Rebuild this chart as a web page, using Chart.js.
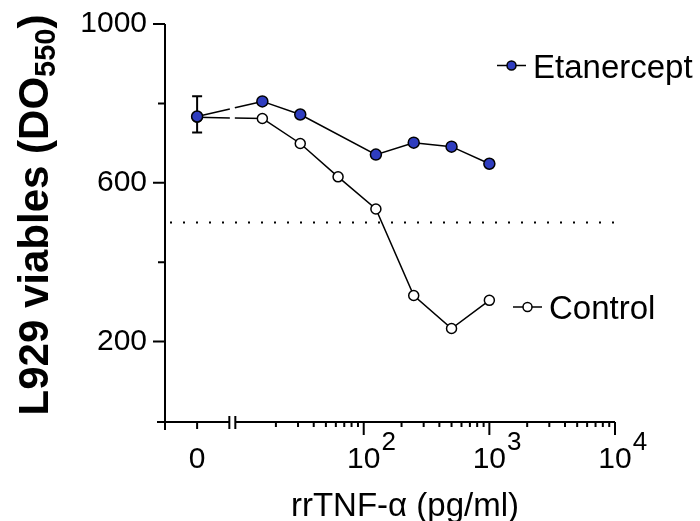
<!DOCTYPE html>
<html>
<head>
<meta charset="utf-8">
<script src="https://cdn.jsdelivr.net/npm/chart.js@4.4.0/dist/chart.umd.min.js"></script>
<style>
  html, body { margin: 0; padding: 0; background: #fff; }
  canvas { display: block; }
</style>
</head>
<body>
<canvas id="chart" width="700" height="521"></canvas>
<script>
// rrTNF-a concentrations in pg/ml, 0 sits left of the axis break
const concentrations = [0, 15.6, 31.25, 62.5, 125, 250, 500, 1000];
const etanercept = [767, 805, 772, null, 671, 701, 691, 648];
const control = [765, 762, 699, 615, 534, 316, 233, 304];
// SD on the first Etanercept point only
const errLow = [727];
const errHigh = [818];
const threshold = 500;

const yTicks = [0, 200, 400, 600, 800, 1000];
const yLabels = [200, 600, 1000];
const xMajor = [100, 1000, 10000];
const xExp = ['2', '3', '4'];

const X_MIN = 2.62;     // left end of the x axis
const ZERO_AT = 4.72;   // where the "0" group is drawn
const BREAK_AT = 9;     // axis break
const BLUE = '#2f3dbf';
const FONT = '"Liberation Sans", Arial, Helvetica, sans-serif';

const xOf = c => (c === 0 ? ZERO_AT : c);
const toPoints = arr => concentrations.map((c, i) => ({ x: xOf(c), y: arr[i] }));

const xMinor = [];
[10, 100, 1000].forEach(d => { for (let k = 2; k <= 9; k++) xMinor.push(k * d); });

// open a small gap in the segment that crosses the axis break
function breakDash(ctx) {
  if (ctx.p0DataIndex !== 0) return undefined;
  const bx = ctx.chart.scales.x.getPixelForValue(BREAK_AT);
  const { p0, p1 } = ctx;
  const dx = p1.x - p0.x;
  const len = Math.hypot(dx, p1.y - p0.y);
  const k = len / dx;
  return [(bx - 2.5 - p0.x) * k, 5 * k, 1000];
}

const prism = {
  id: 'prism',
  beforeDatasetsDraw(chart) {
    const { ctx, scales: { x, y } } = chart;
    const px = x.getPixelForValue(ZERO_AT);
    ctx.save();
    ctx.strokeStyle = '#000';
    ctx.lineWidth = 2;
    ctx.beginPath();
    const lo = y.getPixelForValue(errLow[0]), hi = y.getPixelForValue(errHigh[0]);
    ctx.moveTo(px, lo); ctx.lineTo(px, hi);
    ctx.moveTo(px - 5, lo); ctx.lineTo(px + 5, lo);
    ctx.moveTo(px - 5, hi); ctx.lineTo(px + 5, hi);
    ctx.stroke();
    ctx.restore();
  },
  afterDraw(chart) {
    const { ctx, chartArea: a, scales: { x, y } } = chart;
    const bx = x.getPixelForValue(BREAK_AT);
    const ax = a.left, ay = a.bottom + 1;
    ctx.save();
    ctx.strokeStyle = '#000';
    ctx.lineWidth = 2;
    ctx.beginPath();
    // y axis
    ctx.moveTo(ax, a.top); ctx.lineTo(ax, ay + 8);
    yTicks.forEach(v => {
      const py = v === 0 ? ay : y.getPixelForValue(v);
      const len = v === 0 ? 8 : (yLabels.includes(v) ? 12 : 7);
      ctx.moveTo(ax - len, py); ctx.lineTo(ax, py);
    });
    // x axis with break
    ctx.moveTo(ax - 8, ay); ctx.lineTo(bx - 3, ay);
    ctx.moveTo(bx + 3, ay); ctx.lineTo(a.right, ay);
    ctx.moveTo(bx - 3, ay - 6); ctx.lineTo(bx - 3, ay + 7);
    ctx.moveTo(bx + 3, ay - 6); ctx.lineTo(bx + 3, ay + 7);
    const zx = x.getPixelForValue(ZERO_AT);
    ctx.moveTo(zx, ay); ctx.lineTo(zx, ay + 7);
    xMinor.forEach(v => {
      const p = x.getPixelForValue(v);
      ctx.moveTo(p, ay); ctx.lineTo(p, ay + 5);
    });
    xMajor.forEach(v => {
      const p = x.getPixelForValue(v);
      ctx.moveTo(p, ay); ctx.lineTo(p, ay + 13);
    });
    ctx.stroke();

    // x tick labels
    ctx.fillStyle = '#000';
    ctx.textBaseline = 'alphabetic';
    ctx.textAlign = 'center';
    ctx.font = '30px ' + FONT;
    ctx.fillText('0', zx, 468);
    xMajor.forEach((v, i) => {
      const p = x.getPixelForValue(v);
      ctx.font = '30px ' + FONT;
      ctx.textAlign = 'center';
      ctx.fillText('10', p, 468);
      const w = ctx.measureText('10').width;
      ctx.font = '26px ' + FONT;
      ctx.textAlign = 'left';
      ctx.fillText(xExp[i], p + w / 2 + 1, 450);
    });

    // x title
    ctx.font = '33px ' + FONT;
    ctx.textAlign = 'center';
    ctx.fillText('rrTNF-\u03b1 (pg/ml)', 405, 516);

    // y title, rotated, with subscript
    ctx.save();
    ctx.translate(33, 215);
    ctx.rotate(-Math.PI / 2);
    const mainTxt = 'L929 viables (DO', subTxt = '550', endTxt = ')';
    const bold = 'bold 42px ' + FONT, boldSub = 'bold 29px ' + FONT;
    ctx.font = bold;
    const w1 = ctx.measureText(mainTxt).width, w3 = ctx.measureText(endTxt).width;
    ctx.font = boldSub;
    const w2 = ctx.measureText(subTxt).width;
    let u = -(w1 + w2 + w3) / 2;
    ctx.textAlign = 'left';
    ctx.font = bold; ctx.fillText(mainTxt, u, 15); u += w1;
    ctx.font = boldSub; ctx.fillText(subTxt, u, 22); u += w2;
    ctx.font = bold; ctx.fillText(endTxt, u, 15);
    ctx.restore();

    // series labels next to the curves
    const items = [
      { text: 'Etanercept', x: 497, y: 65.5, fill: BLUE },
      { text: 'Control', x: 513, y: 307, fill: '#fff' }
    ];
    items.forEach(it => {
      ctx.lineWidth = 1.5;
      ctx.beginPath();
      ctx.moveTo(it.x, it.y); ctx.lineTo(it.x + 29, it.y);
      ctx.stroke();
      ctx.beginPath();
      ctx.arc(it.x + 14.5, it.y, 4.5, 0, Math.PI * 2);
      ctx.fillStyle = it.fill;
      ctx.fill();
      ctx.stroke();
      ctx.fillStyle = '#000';
      ctx.font = '33px ' + FONT;
      ctx.textAlign = 'left';
      ctx.fillText(it.text, it.x + 36, it.y + 12);
    });
    ctx.restore();
  }
};

new Chart(document.getElementById('chart'), {
  type: 'line',
  data: {
    datasets: [
      {
        label: 'Etanercept',
        data: toPoints(etanercept),
        borderColor: '#000',
        borderWidth: 1.5,
        pointRadius: 5.5,
        pointBackgroundColor: BLUE,
        pointBorderColor: '#000',
        pointBorderWidth: 1.5,
        spanGaps: true,
        segment: { borderDash: breakDash },
        tension: 0
      },
      {
        label: 'Control',
        data: toPoints(control),
        borderColor: '#000',
        borderWidth: 1.5,
        pointRadius: 5,
        pointBackgroundColor: '#fff',
        pointBorderColor: '#000',
        pointBorderWidth: 1.5,
        segment: { borderDash: breakDash },
        tension: 0
      },
      {
        label: 'threshold',
        data: [{ x: X_MIN, y: threshold }, { x: 10000, y: threshold }],
        borderColor: '#000',
        borderWidth: 2,
        borderDash: [2, 11],
        borderDashOffset: -5,
        pointRadius: 0
      }
    ]
  },
  options: {
    responsive: false,
    animation: false,
    devicePixelRatio: 1,
    layout: { padding: { top: 24, right: 85, left: 0, bottom: 0 } },
    plugins: { legend: { display: false }, tooltip: { enabled: false } },
    scales: {
      x: {
        type: 'logarithmic',
        min: X_MIN,
        max: 10000,
        grid: { display: false, drawTicks: false },
        border: { display: false },
        ticks: { display: false },
        afterFit: s => { s.height = 100; s.paddingLeft = 0; s.paddingRight = 0; }
      },
      y: {
        min: 0,
        max: 1000,
        grid: { display: false, drawTicks: false },
        border: { display: false },
        afterBuildTicks: s => { s.ticks = yTicks.map(v => ({ value: v })); },
        ticks: {
          color: '#000',
          padding: 18,
          font: { size: 30, family: FONT },
          callback: v => (yLabels.includes(v) ? String(v) : '')
        },
        afterFit: s => { s.width = 165; s.paddingTop = 0; s.paddingBottom = 0; }
      }
    }
  },
  plugins: [prism]
});
</script>
</body>
</html>
